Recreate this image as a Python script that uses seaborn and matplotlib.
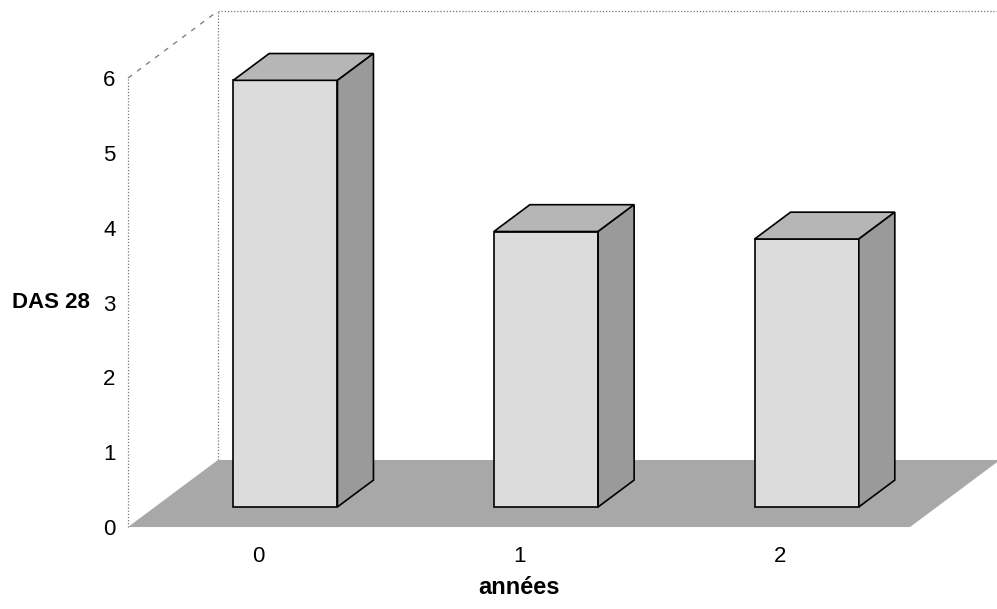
import matplotlib
matplotlib.use("Agg")
import matplotlib.pyplot as plt
from matplotlib.patches import Polygon
import pandas as pd
import seaborn as sns

# values
annees = ["0", "1", "2"]
das28 = [5.7, 3.68, 3.58]
y_ticks = [0, 1, 2, 3, 4, 5, 6]

sns.set_style("white")
plt.rcParams['font.family'] = ['Liberation Sans', 'DejaVu Sans']
plt.rcParams['text.color'] = 'black'
plt.rcParams['xtick.color'] = 'black'
plt.rcParams['ytick.color'] = 'black'
plt.rcParams['axes.labelcolor'] = 'black'

# oblique "3D" depth of the plot box, in data units
DEPTH_X = 0.345
DEPTH_Y = 0.896
BAR_DEPTH = 0.4               # share of the depth used by a bar
BAR_GAP = (1 - BAR_DEPTH) / 2

FRONT = "#dcdcdc"
TOP = "#b6b6b6"
SIDE = "#9a9a9a"
FLOOR = "#a8a8a8"
GRID = "#777777"

df = pd.DataFrame({"annees": annees, "das28": das28})

fig = plt.figure(figsize=(9.97, 6.09), dpi=100)
ax = fig.add_axes([0.1284, 0.1346, 0.7844, 0.7373])

sns.barplot(data=df, x="annees", y="das28", width=0.4, color=FRONT, saturation=1,
            edgecolor="black", linewidth=1.2, errorbar=None, ax=ax, zorder=3)
bars = list(ax.patches)

xmin, xmax = -0.5, len(annees) - 0.5
ymax = max(y_ticks)
ax.set_xlim(xmin, xmax)
ax.set_ylim(0, ymax)
back_x = xmin + DEPTH_X

# side wall and floor
ax.add_patch(Polygon([(xmin, 0), (xmin, ymax), (back_x, ymax + DEPTH_Y), (back_x, DEPTH_Y)],
                     closed=True, fc="white", ec="none", clip_on=False, zorder=0))
ax.add_patch(Polygon([(xmin, 0), (xmax, 0), (xmax + DEPTH_X, DEPTH_Y), (back_x, DEPTH_Y)],
                     closed=True, fc=FLOOR, ec="none", clip_on=False, zorder=1))

# dotted wall edges
dot = dict(color=GRID, lw=0.9, ls=(0, (1, 1.5)), clip_on=False, zorder=0.5)
ax.plot([xmin, xmin], [0, ymax], **dot)
ax.plot([back_x, back_x], [DEPTH_Y, ymax + DEPTH_Y], **dot)
ax.plot([back_x, xmax + DEPTH_X + 0.2], [ymax + DEPTH_Y] * 2, **dot)
ax.plot([xmin, back_x], [ymax, ymax + DEPTH_Y], color=GRID, lw=0.9, ls=(0, (4, 5)),
        clip_on=False, zorder=0.5)

# push bars back into the box and give them a top and a side
dx, dy = BAR_DEPTH * DEPTH_X, BAR_DEPTH * DEPTH_Y
for bar in bars:
    x0 = bar.get_x() + BAR_GAP * DEPTH_X
    y0 = BAR_GAP * DEPTH_Y
    w = bar.get_width()
    h = bar.get_height()
    bar.set_x(x0)
    bar.set_y(y0)
    bar.set_clip_on(False)
    x1 = x0 + w
    top = y0 + h
    ax.add_patch(Polygon([(x0, top), (x1, top), (x1 + dx, top + dy), (x0 + dx, top + dy)],
                         closed=True, fc=TOP, ec="black", lw=1.2, clip_on=False, zorder=3))
    ax.add_patch(Polygon([(x1, y0), (x1, top), (x1 + dx, top + dy), (x1 + dx, y0 + dy)],
                         closed=True, fc=SIDE, ec="black", lw=1.2, clip_on=False, zorder=3))

ax.set_yticks(y_ticks)
ax.set_yticklabels([str(t) for t in y_ticks])
ax.tick_params(axis="both", length=0, labelsize=16, labelcolor="black")
ax.tick_params(axis="x", pad=14)
ax.tick_params(axis="y", pad=9)
sns.despine(ax=ax, left=True, bottom=True)

ax.set_xlabel("années", fontsize=17, fontweight="bold", va="center", color="black")
ax.xaxis.set_label_coords(0.5, -0.134)
ax.set_ylabel("DAS 28", fontsize=16, fontweight="bold", rotation=0, ha="right", va="center",
              color="black")
ax.yaxis.set_label_coords(-0.0486, 0.5)

fig.savefig("out.png", dpi=100)
